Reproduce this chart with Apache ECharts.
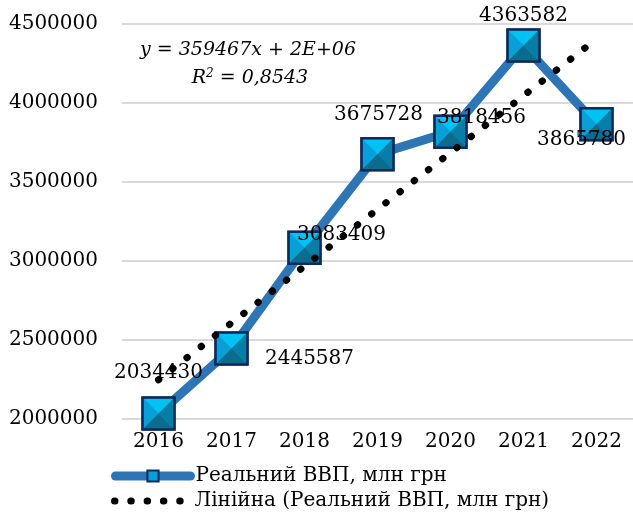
<!DOCTYPE html>
<html>
<head>
<meta charset="utf-8">
<script src="https://cdn.jsdelivr.net/npm/echarts@6/dist/echarts.min.js"></script>
<style>
  html, body { margin: 0; padding: 0; background: #fff; }
  #chart { width: 633px; height: 515px; }
</style>
</head>
<body>
<div id="chart"></div>
<script>
const years = ['2016', '2017', '2018', '2019', '2020', '2021', '2022'];
const realGdp = [2034430, 2445587, 3083409, 3675728, 3818456, 4363582, 3865780];
// trend line (dotted line)
const trendGdp = [2248000, 2608000, 2967000, 3327000, 3686000, 4046000, 4405000];
const yTicks = { min: 2000000, max: 4500000, step: 500000 };

const seriesName = 'Реальний ВВП, млн грн';
const trendName = 'Лінійна (Реальний ВВП, млн грн)';

// where each data label sits relative to its marker
const labelOffsets = [[0, -41], [78, 10], [37, -13], [1, -39], [31, -14], [0, -30], [-15, 16]];

const serif = 'DejaVu Serif';
const legendFont = { fontFamily: serif, fontSize: 20, color: '#000' };
const chart = echarts.init(document.getElementById('chart'));

const tri = (name, path, size, offset, color) => ({
  name: name,
  type: 'scatter',
  data: realGdp,
  symbol: path,
  symbolSize: size,
  symbolOffset: offset,
  itemStyle: { color: color, opacity: 1 },
  silent: true,
  z: 4
});

const option = {
  animation: false,
  grid: { left: 122, right: 0, top: 24, bottom: 96 },
  legend: [
    {
      data: [seriesName],
      left: 106,
      top: 461,
      itemWidth: 75,
      itemHeight: 14,
      lineStyle: { width: 9, color: '#2e75b6', cap: 'round' },
      textStyle: legendFont
    },
    {
      data: [trendName],
      left: 106,
      top: 486,
      itemWidth: 75,
      itemHeight: 14,
      itemStyle: { opacity: 0 },
      lineStyle: { width: 7, color: '#000', type: [0.5, 15.8], cap: 'round', opacity: 1 },
      textStyle: legendFont
    }
  ],
  xAxis: {
    type: 'category',
    data: years,
    axisLine: { show: false },
    axisTick: { show: false },
    axisLabel: { margin: 13, fontFamily: serif, fontSize: 20, color: '#000' }
  },
  yAxis: {
    type: 'value',
    min: yTicks.min,
    max: yTicks.max,
    interval: yTicks.step,
    axisLabel: { margin: 24, fontFamily: serif, fontSize: 20, color: '#000', formatter: v => String(v) },
    splitLine: { lineStyle: { color: '#d9d9d9', width: 2 } }
  },
  series: [
    {
      name: seriesName,
      type: 'line',
      data: realGdp,
      symbol: 'rect',
      symbolSize: 32,
      lineStyle: { color: '#2e75b6', width: 9 },
      itemStyle: { color: '#0a9ed8', borderColor: '#0f2b5b', borderWidth: 2 },
      z: 2
    },
    tri('_top', 'path://M0,0L2,0L1,1Z', [30, 15], [0, -7.5], '#00c2f3'),
    tri('_left', 'path://M0,0L1,1L0,2Z', [15, 30], [-7.5, 0], '#0a9fd6'),
    tri('_right', 'path://M1,0L0,1L1,2Z', [15, 30], [7.5, 0], '#087ea6'),
    tri('_bottom', 'path://M0,1L2,1L1,0Z', [30, 15], [0, 7.5], '#0c6c8d'),
    {
      name: '_frame',
      type: 'scatter',
      data: realGdp.map((v, i) => ({
        value: v,
        label: { offset: labelOffsets[i] }
      })),
      symbol: 'rect',
      symbolSize: 32,
      itemStyle: { color: 'rgba(0,0,0,0)', borderColor: '#0f2b5b', borderWidth: 2.5, opacity: 1 },
      label: {
        show: true,
        position: 'inside',
        fontFamily: serif,
        fontSize: 20,
        color: '#000',
        formatter: p => String(p.value)
      },
      silent: true,
      z: 5
    },
    {
      name: trendName,
      type: 'line',
      data: trendGdp,
      symbol: 'none',
      lineStyle: { color: '#000', width: 7, type: [0.5, 17.5], cap: 'round' },
      itemStyle: { color: '#000' },
      z: 6
    }
  ],
  graphic: [
    {
      type: 'text',
      x: 248,
      y: 50,
      style: {
        text: 'y = 359467x + 2E+06',
        font: 'italic 19px "DejaVu Serif"',
        fill: '#000',
        align: 'center',
        verticalAlign: 'middle'
      },
      z: 10
    },
    {
      type: 'text',
      x: 250,
      y: 78,
      style: {
        text: '{i|R}{s|2}{i| = 0,8543}',
        align: 'center',
        verticalAlign: 'middle',
        rich: {
          i: { font: 'italic 19px "DejaVu Serif"', fill: '#000' },
          s: { font: 'italic 12px "DejaVu Serif"', fill: '#000', verticalAlign: 'top', padding: [0, 0, 8, 0] }
        }
      },
      z: 10
    }
  ]
};

chart.setOption(option);
</script>
</body>
</html>
